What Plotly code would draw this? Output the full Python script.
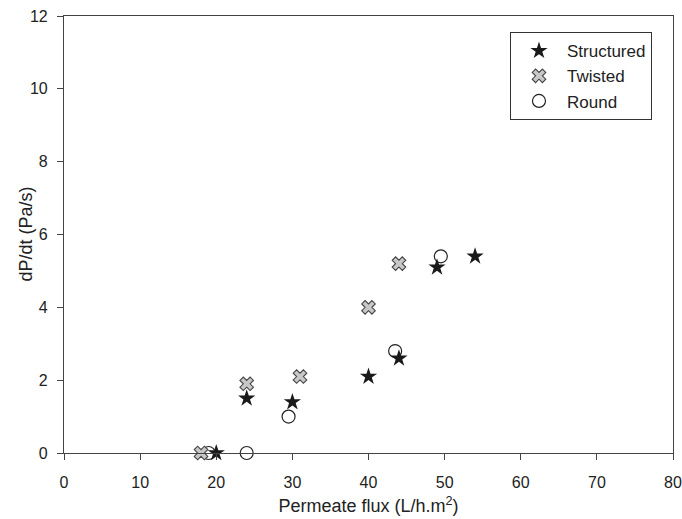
import plotly.graph_objects as go

struct_x = [20, 24, 30, 40, 44, 49, 54]
struct_y = [0, 1.5, 1.4, 2.1, 2.6, 5.1, 5.4]
twist_x = [18, 24, 31, 40, 44]
twist_y = [0, 1.9, 2.1, 4.0, 5.2]
round_x = [19, 24, 29.5, 43.5, 49.5]
round_y = [0, 0, 1.0, 2.8, 5.4]

fig = go.Figure()
fig.add_trace(go.Scatter(x=round_x, y=round_y, mode="markers", name="Round",
                         marker=dict(symbol="circle", size=13, color="white",
                                     line=dict(color="#222", width=1.2)), cliponaxis=False))
fig.add_trace(go.Scatter(x=twist_x, y=twist_y, mode="markers", name="Twisted",
                         marker=dict(symbol="x", size=12, color="#c8c8c8",
                                     line=dict(color="#444", width=1.1)), cliponaxis=False))
fig.add_trace(go.Scatter(x=struct_x, y=struct_y, mode="markers", name="Structured",
                         marker=dict(symbol="star", size=13, color="#1a1a1a",
                                     line=dict(color="#1a1a1a", width=0)), cliponaxis=False))

axis_common = dict(showgrid=False, zeroline=False, showline=True, linecolor="#444",
                   linewidth=1.2, mirror=True, ticks="outside", ticklen=6,
                   tickcolor="#444", tickfont=dict(size=16, color="#222"),
                   automargin=False)
fig.update_layout(
    width=682, height=519,
    margin=dict(l=64, r=9, t=16, b=66),
    paper_bgcolor="white", plot_bgcolor="white",
    font=dict(family="Liberation Sans, Arial, sans-serif", color="#222"),
    showlegend=True,
    legend=dict(x=0.9655, y=0.963, xanchor="right", yanchor="top",
                bordercolor="#333", borderwidth=1, bgcolor="white",
                font=dict(size=17), traceorder="reversed",
                itemwidth=46, tracegroupgap=0),
    xaxis=dict(range=[0, 80], dtick=10, ticklabelstandoff=9,
               title=dict(text="Permeate flux (L/h.m<sup>2</sup>)",
                          font=dict(size=18), standoff=9), **axis_common),
    yaxis=dict(range=[0, 12], dtick=2, ticklabelstandoff=6, **axis_common),
    annotations=[dict(text="dP/dt (Pa/s)", textangle=-90, xref="paper", yref="paper",
                      x=-0.064, y=0.5, xanchor="center", yanchor="middle",
                      showarrow=False, font=dict(size=18, color="#222"))],
)
fig.write_html("out.html")
